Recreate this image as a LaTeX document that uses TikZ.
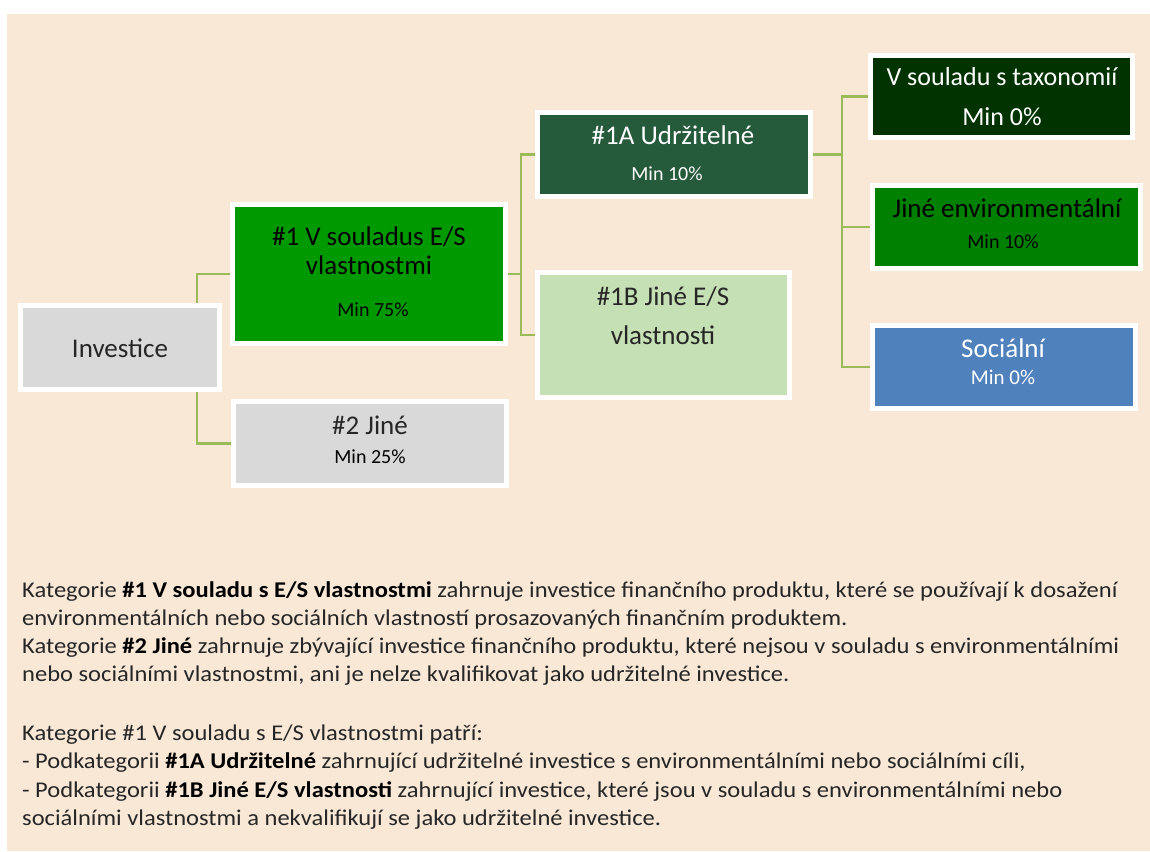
\documentclass[tikz,border=0pt]{standalone}
\usepackage{fontspec}
\setmainfont{Carlito}
\newfontfamily\bodyfont[FakeStretch=1.09]{Carlito}
\definecolor{peach}{HTML}{FAE8D7}
\definecolor{conn}{HTML}{9BBB59}
\definecolor{greyfill}{HTML}{D9D9D9}
\definecolor{greenA}{HTML}{009900}
\definecolor{darkA}{HTML}{255A3B}
\definecolor{lightB}{HTML}{C5E0B4}
\definecolor{taxfill}{HTML}{003300}
\definecolor{envfill}{HTML}{008000}
\definecolor{socfill}{HTML}{4F81BD}
\definecolor{bodytext}{HTML}{262626}
\pgfdeclarelayer{bg}
\pgfsetlayers{bg,main}
\tikzset{
  box/.style={draw=white, line width=5pt, inner sep=0pt, rectangle},
  connline/.style={draw=conn, line width=2.4pt},
  big/.style={font=\fontsize{27}{32}\selectfont, inner sep=0pt},
  small/.style={font=\fontsize{20}{24}\selectfont, inner sep=0pt},
  body/.style={anchor=base west, inner sep=0pt, text=bodytext, font=\bodyfont\fontsize{22.5}{28}\selectfont}
}
\begin{document}
\begin{tikzpicture}[x=1pt,y=-1pt]
\useasboundingbox (0,0) rectangle (1150,851);
\begin{pgfonlayer}{bg}
\fill[peach] (7,14) rectangle (1150,851);
\end{pgfonlayer}

% junction coordinates
\coordinate (j1) at (197,347.5);
\coordinate (j2) at (521,274);
\coordinate (j3) at (842,154.5);

% boxes
\path
 (120,347.5)  node[box, fill=greyfill, minimum width=199pt, minimum height=84pt] (inv) {}
 (369,274)    node[box, fill=greenA, minimum width=273pt, minimum height=139pt] (b1) {}
 (370,443.5)  node[box, fill=greyfill, minimum width=273pt, minimum height=84pt] (b2) {}
 (674,154.5)  node[box, fill=darkA, minimum width=273pt, minimum height=84pt] (b1a) {}
 (663.5,335)  node[box, fill=lightB, minimum width=252pt, minimum height=125pt] (b1b) {}
 (1001.5,96.5) node[box, fill=taxfill, minimum width=262pt, minimum height=82pt] (tax) {}
 (1006.5,227) node[box, fill=envfill, minimum width=268pt, minimum height=83pt] (env) {}
 (1004,367)   node[box, fill=socfill, minimum width=263pt, minimum height=83pt] (soc) {};

% connectors (behind boxes)
\begin{pgfonlayer}{bg}
\draw[connline] (j1) |- (b1.west);
\draw[connline] (j1) |- (b2.west);
\draw[connline] (b1.east) -- (j2);
\draw[connline] (j2) |- (b1a.west);
\draw[connline] (j2) |- (b1b.west);
\draw[connline] (b1a.east) -- (j3);
\draw[connline] (j3) |- (tax.west);
\draw[connline] (j3) |- (env.west);
\draw[connline] (j3) |- (soc.west);
\end{pgfonlayer}

% box texts
\node[big, text=black!85] (tinv) at (120,348) {Investice};
\node[big, text=black] (tb1a) at (369,237) {\#1 V souladus E/S};
\node[big, text=black] (tb1b) at (369,265) {vlastnostmi};
\node[small, text=black] (tb1c) at (373,310) {Min 75\%};
\node[big, text=black!85] (tb2a) at (370,425) {\#2 Jiné};
\node[small, text=black] (tb2b) at (370,457) {Min 25\%};
\node[big, text=white] (t1aa) at (673,135) {\#1A Udržitelné};
\node[small, text=white] (t1ab) at (667,174) {Min 10\%};
\node[big, text=black!85] (t1ba) at (663,297) {\#1B Jiné E/S};
\node[big, text=black!85] (t1bb) at (663,335) {vlastnosti};
\node[font=\fontsize{26}{30}\selectfont, inner sep=0pt, text=white] (ttaxa) at (1002,77) {V souladu s taxonomií};
\node[font=\fontsize{26}{30}\selectfont, inner sep=0pt, text=white] (ttaxb) at (1002,117) {Min 0\%};
\node[big, text=black] (tenva) at (1007,208) {Jiné environmentální};
\node[small, text=black] (tenvb) at (1003,242) {Min 10\%};
\node[big, text=white] (tsoca) at (1003,348) {Sociální};
\node[font=\fontsize{21}{25}\selectfont, inner sep=0pt, text=white] (tsocb) at (1003,377) {Min 0\%};

% body text
\node[body] (l1) at (22,597) {Kategorie \textbf{\color{black}\#1 V souladu s E/S vlastnostmi} zahrnuje investice finančního produktu, které se používají k dosažení};
\node[body] (l2) at (22,625) {environmentálních nebo sociálních vlastností prosazovaných finančním produktem.};
\node[body] (l3) at (22,653) {Kategorie \textbf{\color{black}\#2 Jiné} zahrnuje zbývající investice finančního produktu, které nejsou v souladu s environmentálními};
\node[body] (l4) at (22,681) {nebo sociálními vlastnostmi, ani je nelze kvalifikovat jako udržitelné investice.};
\node[body] (l5) at (22,740) {Kategorie \#1 V souladu s E/S vlastnostmi patří:};
\node[body] (l6) at (22,768) {- Podkategorii \textbf{\color{black}\#1A Udržitelné} zahrnující udržitelné investice s environmentálními nebo sociálními cíli,};
\node[body] (l7) at (22,797) {- Podkategorii \textbf{\color{black}\#1B Jiné E/S vlastnosti} zahrnující investice, které jsou v souladu s environmentálními nebo};
\node[body] (l8) at (22,825) {sociálními vlastnostmi a nekvalifikují se jako udržitelné investice.};
\end{tikzpicture}
\end{document}
